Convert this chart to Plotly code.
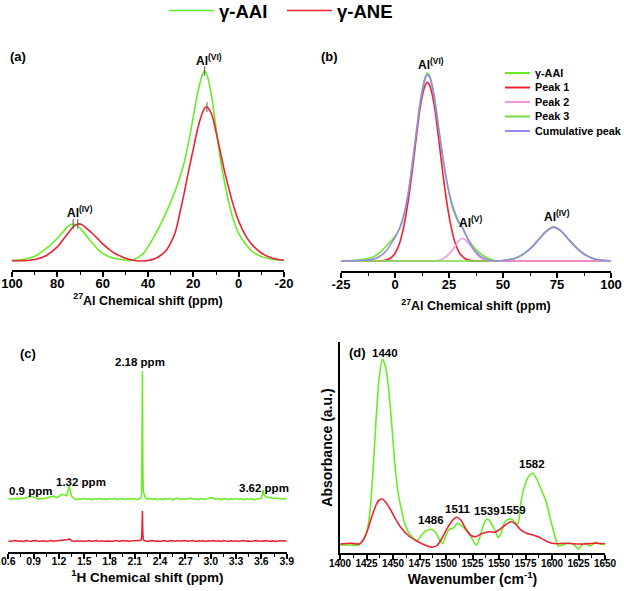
import numpy as np
import plotly.graph_objects as go

W, H = 624, 591
FONT = "Liberation Sans"
GREEN = "#66EE22"
RED = "#EE2233"
PINK = "#EE99DD"
PURPLE = "#9988EE"
GREEN3 = "#77DD44"

# ---------------- (a) 27Al NMR ----------------
a_x = [100, 95, 90, 85, 80, 77, 75, 73, 71, 69, 67, 65, 62, 60, 57, 55, 52, 50, 47, 45,
       42, 40, 37, 35, 32, 30, 28, 26, 24, 22, 20, 18, 16, 15, 14, 12, 10, 8, 6, 4,
       2, 0, -3, -6, -10, -15, -20]
a_aai = [0.3, 0.8, 2.5, 6.5, 12, 16, 18.5, 19.5, 18.5, 16, 13, 10, 6, 4, 2.2, 1.4, 0.8, 0.5, 0.4, 1.5,
         4, 7.4, 13.5, 18, 25.5, 31, 37, 44, 52, 63, 76, 89, 98, 100, 98, 87, 70, 53, 40, 29,
         20.5, 14.5, 9, 5, 2.3, 0.8, 0.3]
a_ane = [0.2, 0.2, 0.8, 2.8, 7.4, 12, 15, 18, 19.5, 19, 17, 15, 11.5, 9, 6, 4.2, 2.5, 1.4, 0.5, 0.1,
         0, 0.3, 1.2, 2.5, 5.5, 9.5, 15, 25, 36, 48, 59, 70, 78, 80.5, 81, 77.5, 68, 57, 46, 36.5,
         28, 21, 13.5, 8.5, 4.2, 1.4, 0.4]
a_ticks = [100, 80, 60, 40, 20, 0, -20]

# ---------------- (b) deconvolution ----------------
b_x = [-25, -20, -15, -10, -7, -4, -2, 0, 2, 4, 6, 8, 10, 12, 14, 15, 16, 18, 20, 22,
       24, 26, 28, 30, 31, 32, 34, 36, 38, 40, 43, 46, 50, 55, 58, 61, 64, 67, 70, 73.5,
       77, 80, 83, 86, 89, 92, 95, 100]
b_aai = [0, 0.2, 0.8, 2.2, 4.5, 8, 10.5, 13, 17, 24, 35, 52, 70, 87, 98, 100, 98.5, 89, 73, 56,
         42, 31, 24, 19.5, 18, 15.5, 11.5, 8, 5.5, 3.5, 1.5, 0.3, 0, 1.2, 2.7, 5, 8.2, 12, 15.8, 18,
         15.8, 12, 8.2, 5, 2.7, 1.2, 0.5, 0]
b_peak1 = [0, 0, 0, 0, 0.05, 0.5, 1.6, 4, 9, 18, 31, 48, 67, 84, 93.5, 95, 93.5, 84, 67, 48,
           31, 18, 9, 4, 2.7, 1.6, 0.5, 0.1, 0, 0, 0, 0, 0, 0, 0, 0, 0, 0, 0, 0,
           0, 0, 0, 0, 0, 0, 0, 0]
b_peak2 = [0, 0, 0, 0, 0, 0, 0, 0, 0, 0, 0, 0, 0, 0, 0, 0, 0, 0, 0.3, 1,
           2.6, 5, 8.3, 11.3, 12, 11.7, 9.6, 6.4, 3.4, 1.4, 0.3, 0, 0, 0, 0, 0, 0, 0, 0, 0,
           0, 0, 0, 0, 0, 0, 0, 0]
b_peak3 = [0, 0, 0, 0, 0, 0, 0, 0, 0, 0, 0, 0, 0, 0, 0, 0, 0, 0, 0, 0,
           0, 0, 0, 0, 0, 0, 0, 0, 0, 0, 0, 0, 0.3, 1.2, 2.7, 5, 8.2, 12, 15.8, 18,
           15.8, 12, 8.2, 5, 2.7, 1.2, 0.5, 0.1]
b_cum = [0, 0.1, 0.3, 1, 2.5, 5.5, 9, 12.5, 17, 24, 35, 51, 69, 86, 97, 99, 98, 88, 72, 56,
         42.5, 32, 25, 20, 18.5, 16, 11, 7, 4.2, 2.2, 0.7, 0.1, 0.3, 1.2, 2.7, 5, 8.2, 12, 15.8, 18,
         15.8, 12, 8.2, 5, 2.7, 1.2, 0.5, 0.1]
b_names = ["γ-AAI", "Peak 1", "Peak 2", "Peak 3", "Cumulative peak"]
b_ticks = [-25, 0, 25, 50, 75, 100]

# ---------------- (c) 1H NMR ----------------
c_x = [0.60, 0.63, 0.66, 0.69, 0.72, 0.75, 0.78, 0.81, 0.84, 0.87,
       0.90, 0.93, 0.96, 0.99, 1.02, 1.05, 1.08, 1.11, 1.14, 1.17,
       1.20, 1.23, 1.26, 1.29, 1.31, 1.32, 1.33, 1.35, 1.38, 1.41, 1.44, 1.47,
       1.50, 1.53, 1.56, 1.59, 1.62, 1.65, 1.68, 1.71, 1.74, 1.77,
       1.80, 1.83, 1.86, 1.89, 1.92, 1.95, 1.98, 2.01, 2.04, 2.07,
       2.10, 2.13, 2.16, 2.175, 2.18, 2.185, 2.19, 2.195, 2.20, 2.22, 2.25, 2.28, 2.31, 2.34, 2.37,
       2.40, 2.43, 2.46, 2.49, 2.52, 2.55, 2.58, 2.61, 2.64, 2.67,
       2.70, 2.73, 2.76, 2.79, 2.82, 2.85, 2.88, 2.91, 2.94, 2.97,
       3.00, 3.03, 3.06, 3.09, 3.12, 3.15, 3.18, 3.21, 3.24, 3.27,
       3.30, 3.33, 3.36, 3.39, 3.42, 3.45, 3.48, 3.51, 3.54, 3.57,
       3.60, 3.62, 3.63, 3.66, 3.69, 3.72, 3.75, 3.78, 3.81, 3.84, 3.87, 3.90]
c_aai = [0.5, -0.5, 0.8, 0.2, -0.3, 0.9, 0.4, 1.2, 1.8, 2.6,
         1.9, 0.6, -0.4, 0.7, 0.2, 1.0, 1.5, 2.2, 3.0, 1.4,
         2.5, 4.6, 3.6, 3.2, 9.0, 13.0, 10.0, 3.0, 0.4, -0.6, 0.3, -0.5,
         0.6, -0.4, 0.3, -0.8, 0.5, -0.2, 0.7, -0.5, 0.2, -0.6,
         0.4, -0.3, 0.8, -0.6, 0.1, 0.6, -0.7, 0.3, -0.2, 0.5,
         0.2, -0.4, 0.5, 1.5, 4.0, 50, 128, 30, 8, 2, -0.3, 0.6, -0.5, 0.4, -0.6,
         0.3, -0.7, 0.5, -0.2, 0.6, -0.8, 0.2, 0.7, -0.4, 0.3,
         -0.5, 0.4, 0.9, -0.3, 0.2, -0.6, 0.5, 0.1, -0.4, 0.6,
         1.2, 0.8, -0.3, 0.4, -0.6, 0.2, 0.5, -0.8, 0.3, -0.2,
         0.4, -0.5, 0.2, -0.7, 0.3, -0.2, 0.5, -0.9, -0.3, 0.2,
         0.8, 9.0, 4.0, 2.0, 1.5, 1.2, 0.6, 0.9, 0.3, -0.2, 0.4, 0.0]
c_ane = [0.3, -0.4, 0.2, 0.5, -0.3, 0.1, -0.5, 0.4, 0.0, -0.3,
         0.2, 0.5, -0.4, 0.1, 0.3, -0.5, 0.2, 0.4, -0.2, 0.1,
         -0.3, 0.2, 0.4, 0.6, 1.5, 2.2, 1.2, 0.3, -0.4, 0.2, -0.2, 0.3,
         -0.5, 0.2, 0.4, -0.3, 0.1, 0.5, -0.4, 0.2, -0.2, 0.3,
         0.1, -0.4, 0.3, 0.2, -0.5, 0.4, -0.1, 0.3, -0.3, 0.2,
         0.3, -0.2, 0.4, 1.0, 3, 14, 30, 8, 1.2, 0.3, -0.4, 0.2, 0.4, -0.3, 0.1,
         -0.4, 0.3, 0.2, -0.5, 0.4, 0.1, -0.3, 0.5, -0.2, 0.2,
         0.4, -0.3, 0.1, 0.5, -0.4, 0.2, -0.1, 0.3, -0.5, 0.2,
         0.1, 0.4, -0.3, 0.2, -0.4, 0.5, 0.0, -0.3, 0.3, -0.2,
         0.3, -0.5, 0.2, 0.4, -0.2, 0.1, -0.4, 0.3, 0.5, -0.3,
         0.2, 0.3, -0.1, 0.4, -0.3, 0.2, 0.1, -0.4, 0.3, 0.2, -0.2, 0.1]
c_labels = ["0.9 ppm", "1.32 ppm", "2.18 ppm", "3.62 ppm"]

# ---------------- (d) IR ----------------
d_x_aai = [1400, 1410, 1418, 1425, 1428, 1431, 1434, 1437, 1440, 1443, 1446, 1449, 1452, 1455, 1458,
           1461, 1465, 1470, 1473, 1477, 1481, 1486, 1490, 1494, 1497, 1500, 1503, 1507, 1511, 1515,
           1518, 1522, 1526, 1529, 1532, 1536, 1539, 1542, 1546, 1549, 1552, 1555, 1559, 1563, 1566,
           1568, 1571, 1575, 1579, 1582, 1586, 1590, 1594, 1598, 1602, 1606, 1610, 1615, 1620, 1625,
           1628, 1632, 1636, 1641, 1645, 1650]
d_aai = [-1, -1, -1, 10.7, 30, 70, 124, 167, 185, 177, 154, 117, 77, 50, 34,
         21, 11, 5, 3.3, 9, 13, 14.7, 12, 4, 0.7, 9, 14.7, 16, 21, 18,
         14.7, 10.7, 2.3, -1, 7, 21, 25, 22, 14, 6.7, 10.7, 21.3, 24.7, 24, 20,
         20.7, 44, 60.7, 69, 70.7, 64, 54, 44, 27, 10.7, -2, -1, 0.7, 0, -5.3,
         -1, 0.7, -2, 1.7, 0, 0]
d_x_ane = [1400, 1410, 1418, 1422, 1426, 1430, 1434, 1437, 1440, 1443, 1447, 1452, 1458, 1465, 1472,
           1480, 1487, 1492, 1497, 1502, 1507, 1510, 1514, 1518, 1523, 1528, 1533, 1540, 1546, 1550,
           1556, 1561, 1565, 1570, 1576, 1582, 1588, 1594, 1600, 1605, 1612, 1620, 1630, 1640, 1650]
d_ane = [0, 0.7, 0, 4, 14, 27.3, 39, 44, 45, 42, 35.7, 25.7, 15.7, 8, 3.3,
         -1, -3.3, -1, 7.3, 17.3, 24.7, 26.7, 24, 16.3, 9, 7.3, 10, 12.3, 11.7, 14,
         19, 22.3, 20.7, 14.7, 10.7, 9, 6.7, 3.3, 0.7, 0.3, 0.7, 0.3, 0, 0.7, 0.3]
d_peak_labels = [1440, 1486, 1511, 1539, 1559, 1582]


def px(xp):
    return xp / W


def py(yp):
    return 1 - yp / H


fig = go.Figure()
bold = dict(family=FONT, color="black", weight="bold")
LW = 1.6

# (a)
fig.add_trace(go.Scatter(x=a_x, y=a_aai, mode="lines", name="γ-AAI", line=dict(color=GREEN, width=LW, shape="spline"),
                         xaxis="x", yaxis="y", legend="legend"))
fig.add_trace(go.Scatter(x=a_x, y=a_ane, mode="lines", name="γ-ANE", line=dict(color=RED, width=LW, shape="spline"),
                         xaxis="x", yaxis="y", legend="legend"))
ax = np.array(a_x, dtype=float)
mx, my = [], []
for ser in (a_aai, a_ane):
    s = np.array(ser, dtype=float)
    for mask in (ax > 45, ax <= 45):
        i = np.argmax(np.where(mask, s, -1e9))
        mx.append(ax[i]); my.append(s[i])
fig.add_trace(go.Scatter(x=mx, y=my, mode="markers", showlegend=False, hoverinfo="skip",
                         marker=dict(symbol="line-ns", size=7, line=dict(color="#555555", width=1)),
                         xaxis="x", yaxis="y"))

# (b)
b_cols = [GREEN, RED, PINK, GREEN3, PURPLE]
for name, ser, col in zip(b_names, [b_aai, b_peak1, b_peak2, b_peak3, b_cum], b_cols):
    fig.add_trace(go.Scatter(x=b_x, y=ser, mode="lines", name=name, showlegend=False,
                             line=dict(color=col, width=LW, shape="spline"), xaxis="x2", yaxis="y2"))

# (c) stacked: red at 0, green shifted up
C_OFF = 42
fig.add_trace(go.Scatter(x=c_x, y=np.array(c_aai) + C_OFF, mode="lines", name="γ-AAI", showlegend=False,
                         line=dict(color=GREEN, width=1.5), xaxis="x3", yaxis="y3"))
fig.add_trace(go.Scatter(x=c_x, y=c_ane, mode="lines", name="γ-ANE", showlegend=False,
                         line=dict(color=RED, width=1.5), xaxis="x3", yaxis="y3"))

# (d)
fig.add_trace(go.Scatter(x=d_x_aai, y=d_aai, mode="lines", name="γ-AAI", showlegend=False,
                         line=dict(color=GREEN, width=LW, shape="spline", smoothing=0.6), xaxis="x4", yaxis="y4"))
fig.add_trace(go.Scatter(x=d_x_ane, y=d_ane, mode="lines", name="γ-ANE", showlegend=False,
                         line=dict(color=RED, width=LW, shape="spline", smoothing=0.6), xaxis="x4", yaxis="y4"))


def xaxis_cfg(dom, rng, dtick, minor, title, anchor, fs=13, tfs=12.5, standoff=1, tls=-4):
    return dict(domain=dom, range=rng, anchor=anchor, showline=True, linecolor="black", linewidth=1.5,
                ticks="outside", ticklen=5, tickwidth=1.5, tickcolor="black", dtick=dtick, tick0=0,
                minor=dict(ticks="outside", ticklen=3, tickwidth=1.2, tickcolor="black", dtick=minor),
                showgrid=False, zeroline=False, tickfont=dict(size=fs, **bold), tickangle=0,
                ticklabelstandoff=tls, automargin=False,
                title=dict(text=title, font=dict(size=tfs, **bold), standoff=standoff))


xa = xaxis_cfg([px(12), px(284)], [100, -20], 20, 10, "<sup>27</sup>Al Chemical shift (ppm)", "y")
xa.update(tickmode="array", tickvals=a_ticks, ticktext=[str(v) for v in a_ticks])
xb = xaxis_cfg([px(341), px(611)], [-25, 100], 25, 12.5, "<sup>27</sup>Al Chemical shift (ppm)", "y2", standoff=10)
xb.update(tickmode="array", tickvals=b_ticks, ticktext=[str(v) for v in b_ticks])
xc = xaxis_cfg([px(8.3), px(286.7)], [0.6, 3.9], 0.3, 0.15, "<sup>1</sup>H Chemical shift (ppm)", "y3",
               fs=10.5, tfs=13.5, standoff=6, tls=-6)
xc.update(tickformat=".1f")
xd = xaxis_cfg([px(340), px(605)], [1400, 1650], 25, 12.5, "Wavenumber (cm<sup>-1</sup>)", "y4",
               fs=10, tfs=14, standoff=4, tls=-5)

fig.update_layout(
    width=W, height=H, autosize=False, margin=dict(l=0, r=0, t=0, b=0, autoexpand=False),
    paper_bgcolor="white", plot_bgcolor="rgba(0,0,0,0)", font=dict(family=FONT, color="black"),
    xaxis=xa,
    yaxis=dict(domain=[py(270), py(60)], range=[-4.74, 105.8], visible=False, anchor="x"),
    xaxis2=xb,
    yaxis2=dict(domain=[py(271), py(60)], range=[-5.32, 106.9], visible=False, anchor="x2"),
    xaxis3=xc,
    yaxis3=dict(domain=[py(552), py(355)], range=[-11, 186], visible=False, anchor="x3"),
    xaxis4=xd,
    yaxis4=dict(domain=[py(553), py(342)], range=[-9, 202], showline=True, linecolor="black", linewidth=1.5,
                showticklabels=False, ticks="", showgrid=False, zeroline=False, anchor="x4", automargin=False,
                title=dict(text="Absorbance (a.u.)", font=dict(size=14, **bold), standoff=2)),
    legend=dict(orientation="h", x=px(164), y=py(11), xanchor="left", yanchor="middle",
                font=dict(size=18.5, **bold), bgcolor="rgba(0,0,0,0)", itemwidth=45,
                entrywidth=58, entrywidthmode="pixels"),
    showlegend=True,
)

ann = []
shapes = []


def label(text, x, y, size=13, xanchor="center"):
    ann.append(dict(text=text, x=px(x), y=py(y), xref="paper", yref="paper", showarrow=False,
                    xanchor=xanchor, yanchor="middle", font=dict(size=size, **bold)))


label("(a)", 18, 57)
label("(b)", 329, 57)
label("(c)", 28, 353)
label("Al<sup>(VI)</sup>", 209, 60, 12)
label("Al<sup>(IV)</sup>", 80, 212, 12)
label("Al<sup>(VI)</sup>", 431, 64, 12)
label("Al<sup>(V)</sup>", 470, 222, 12)
label("Al<sup>(IV)</sup>", 557, 216, 12)
for t, (x, y) in zip(c_labels, [(30, 491), (81, 482), (140, 362), (264, 488)]):
    label(t, x, y, 11.5)
label("(d)", 357, 352)
for t, (x, y) in zip(d_peak_labels, [(385, 353), (431, 520), (458, 509), (487, 511), (513, 510), (532, 464)]):
    label(str(t), x, y, 11.5)

# legend of panel (b)
for k, (name, col) in enumerate(zip(b_names, b_cols)):
    yy = 73 + k * 14.5
    shapes.append(dict(type="line", xref="paper", yref="paper", x0=px(505), x1=px(530), y0=py(yy), y1=py(yy),
                       line=dict(color=col, width=2)))
    label(name, 533, yy, 10.8, xanchor="left")

fig.update_layout(annotations=ann, shapes=shapes)
fig.write_html("out.html", config={"displayModeBar": False},
               post_script="document.body.style.margin='0';document.body.style.overflow='hidden';")
